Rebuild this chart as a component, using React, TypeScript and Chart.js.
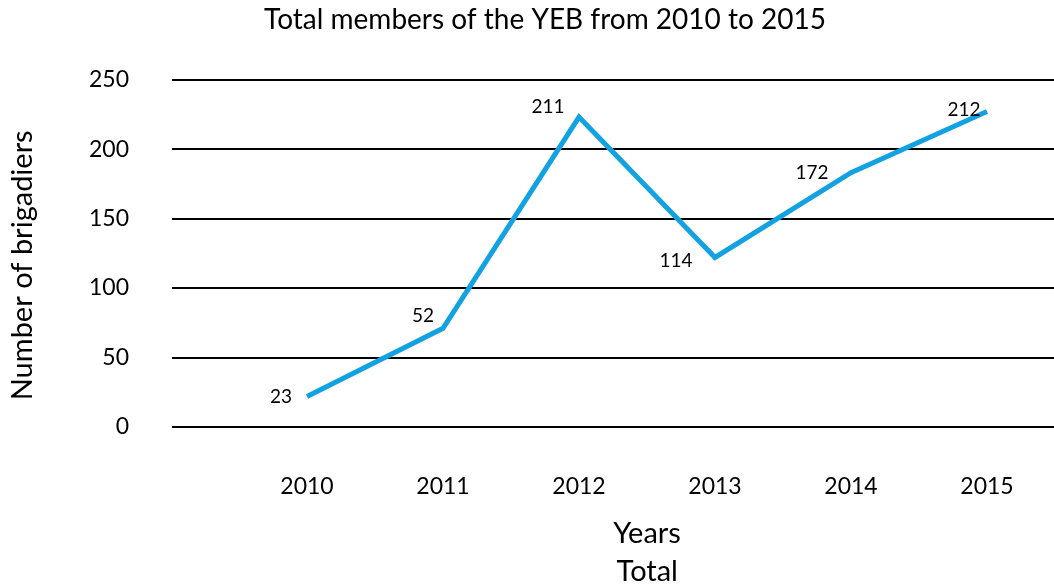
import React, { useEffect, useRef } from 'react';
import { Chart, registerables } from 'chart.js';

Chart.register(...registerables);

// ---- data ----
const YEARS = ['2010', '2011', '2012', '2013', '2014', '2015'];
const TOTAL = [22, 71, 223, 122, 183, 227];
const DATA_LABELS = ['23', '52', '211', '114', '172', '212'];
const Y_TICKS = [0, 50, 100, 150, 200, 250];
const SERIES_NAME = 'Total';
const TITLE = 'Total members of the YEB from 2010 to 2015';
const X_TITLE = 'Years';
const Y_TITLE = 'Number of brigadiers';

// ---- style ----
const FONT = "Lato, 'Open Sans', sans-serif";
const LINE_COLOR = '#12a2e2';
const GRID_COLOR = '#000000';
const TEXT_COLOR = '#000000';
const LABEL_OFFSETS: [number, number][] = [
  [-26, 0],
  [-20, -12],
  [-31, -10],
  [-39, 3],
  [-39, 0],
  [-23, -2],
];

const dataLabelPlugin = {
  id: 'dataLabels',
  afterDatasetsDraw(chart: any) {
    const meta = chart.getDatasetMeta(0);
    const ctx = chart.ctx;
    ctx.save();
    ctx.font = `19px ${FONT}`;
    ctx.fillStyle = TEXT_COLOR;
    ctx.textAlign = 'center';
    ctx.textBaseline = 'middle';
    meta.data.forEach((pt: any, i: number) => {
      const [dx, dy] = LABEL_OFFSETS[i];
      ctx.fillText(DATA_LABELS[i], pt.x + dx, pt.y + dy);
    });
    ctx.restore();
  },
};

const yTitlePlugin = {
  id: 'yTitle',
  afterDraw(chart: any) {
    const { ctx, chartArea } = chart;
    ctx.save();
    ctx.font = `29px ${FONT}`;
    ctx.fillStyle = TEXT_COLOR;
    ctx.textAlign = 'center';
    ctx.textBaseline = 'middle';
    ctx.translate(23, (chartArea.top + chartArea.bottom) / 2 + 12);
    ctx.rotate(-Math.PI / 2);
    ctx.fillText(Y_TITLE, 0, 0);
    ctx.restore();
  },
};

export default function App() {
  const ref = useRef<HTMLCanvasElement>(null);

  useEffect(() => {
    const canvas = ref.current;
    if (!canvas) return;
    const chart = new Chart(canvas, {
      type: 'line',
      data: {
        labels: YEARS,
        datasets: [
          {
            label: SERIES_NAME,
            data: TOTAL,
            borderColor: LINE_COLOR,
            backgroundColor: LINE_COLOR,
            borderWidth: 5,
            pointRadius: 0,
            pointHoverRadius: 0,
            tension: 0,
            fill: false,
            yAxisID: 'y',
          },
        ],
      },
      options: {
        animation: false,
        responsive: false,
        devicePixelRatio: 1,
        events: [],
        layout: { padding: 0 },
        scales: {
          x: {
            type: 'category',
            offset: true,
            grid: { display: false, drawTicks: false },
            border: { display: false },
            afterFit: (s: any) => {
              s.height = 130;
            },
            ticks: {
              font: { family: FONT, size: 23 },
              color: TEXT_COLOR,
              padding: 46,
              maxRotation: 0,
              autoSkip: false,
            },
            title: {
              display: true,
              text: X_TITLE,
              font: { family: FONT, size: 29 },
              color: TEXT_COLOR,
              padding: { top: 0, bottom: 6 },
            },
          },
          y: {
            type: 'linear',
            position: 'left',
            min: 0,
            max: 250,
            afterBuildTicks: (s: any) => {
              s.ticks = Y_TICKS.map((v) => ({ value: v }));
            },
            afterFit: (s: any) => {
              s.width = 239;
            },
            grid: {
              color: GRID_COLOR,
              lineWidth: 2,
              drawTicks: true,
              tickLength: 67,
              tickWidth: 2,
              tickColor: GRID_COLOR,
            },
            border: { display: false },
            ticks: {
              font: { family: FONT, size: 23 },
              color: TEXT_COLOR,
              padding: 43,
            },
            title: { display: false, text: Y_TITLE },
          },
          y2: {
            type: 'linear',
            position: 'right',
            min: 0,
            max: 250,
            afterBuildTicks: (s: any) => {
              s.ticks = Y_TICKS.map((v) => ({ value: v }));
            },
            grid: {
              drawOnChartArea: false,
              drawTicks: true,
              tickLength: 35,
              tickWidth: 2,
              tickColor: GRID_COLOR,
              color: GRID_COLOR,
            },
            border: { display: false },
            ticks: { display: false },
          },
        },
        plugins: {
          title: {
            display: true,
            text: TITLE,
            font: { family: FONT, size: 28, weight: 'normal' },
            color: TEXT_COLOR,
            padding: { top: 3, bottom: 43 },
          },
          legend: {
            display: true,
            position: 'bottom',
            fullSize: false,
            labels: {
              boxWidth: -14,
              boxHeight: 0,
              padding: 0,
              font: { family: FONT, size: 29 },
              color: TEXT_COLOR,
              generateLabels: (c: any) =>
                c.data.datasets.map((d: any, i: number) => ({
                  text: d.label,
                  fillStyle: 'rgba(0,0,0,0)',
                  strokeStyle: 'rgba(0,0,0,0)',
                  lineWidth: 0,
                  fontColor: TEXT_COLOR,
                  datasetIndex: i,
                  hidden: false,
                })),
            },
          },
          tooltip: { enabled: false },
        },
      },
      plugins: [dataLabelPlugin, yTitlePlugin],
    });
    return () => chart.destroy();
  }, []);

  return (
    <div
      style={{
        position: 'fixed',
        left: 0,
        top: 0,
        width: 1054,
        height: 586,
        overflow: 'hidden',
        background: '#fff',
      }}
    >
      <canvas ref={ref} width={1090} height={596} style={{ display: 'block' }} />
    </div>
  );
}
